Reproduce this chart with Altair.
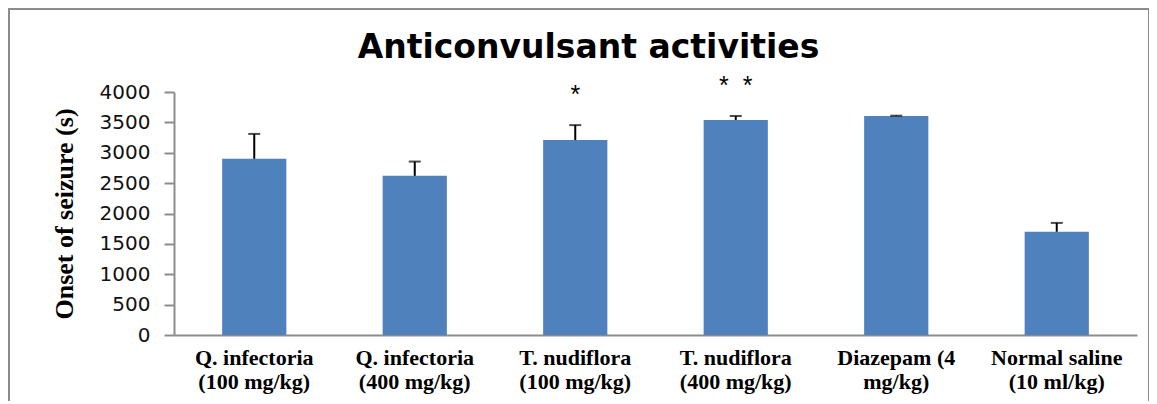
import altair as alt
import pandas as pd

categories = [
    "Q. infectoria|(100 mg/kg)",
    "Q. infectoria|(400 mg/kg)",
    "T. nudiflora|(100 mg/kg)",
    "T. nudiflora|(400 mg/kg)",
    "Diazepam (4|mg/kg)",
    "Normal saline|(10 ml/kg)",
]
means = [2900, 2620, 3210, 3540, 3605, 1700]
errors = [410, 235, 245, 65, 5, 145]
stars = ["", "", "*", "*\u00a0\u00a0*", "", ""]
y_ticks = [0, 500, 1000, 1500, 2000, 2500, 3000, 3500, 4000]

df = pd.DataFrame({"cat": categories, "mean": means, "err": errors, "star": stars})
df["top"] = df["mean"] + df["err"]

yscale = alt.Scale(domain=[0, 4000])
xscale = alt.Scale(paddingInner=0.6, paddingOuter=0.3)
xaxis = alt.Axis(title=None, labelAngle=0, labelExpr="split(datum.value, '|')",
                 labelFont="Liberation Serif", labelFontWeight="bold", labelFontSize=22,
                 labelColor="#000", labelLineHeight=24, labelPadding=12,
                 ticks=False, domainColor="#8c8c8c", domainWidth=2)
yaxis = alt.Axis(title="Onset of seizure (s)", values=y_ticks, format="d",
                 labelOverlap=False,
                 grid=False, titleFont="Liberation Serif", titleFontWeight="bold",
                 titleFontSize=26, titleColor="#000", titlePadding=22,
                 labelFont="DejaVu Sans", labelFontSize=20, labelColor="#111",
                 labelPadding=14, tickSize=10, tickColor="#8c8c8c", tickWidth=2,
                 domainColor="#8c8c8c", domainWidth=2)

x = alt.X("cat:N", sort=categories, scale=xscale, axis=xaxis)

def yenc(field):
    return alt.Y(field, scale=yscale, axis=yaxis)

base = alt.Chart(df)
bars = base.mark_bar(color="#4F81BD").encode(x=x, y=yenc("mean:Q"))
rule = base.mark_rule(color="#000", strokeWidth=2).encode(x=x, y=yenc("mean:Q"), y2="top:Q")
cap = base.mark_tick(color="#000", thickness=2, size=12, orient="horizontal").encode(
    x=x, y=yenc("top:Q"))
txt = base.mark_text(font="Liberation Sans", fontSize=25, dy=-30, dx=0, baseline="middle",
                     color="#000").encode(x=x, y=yenc("top:Q"), text="star:N")
frame = alt.Chart(pd.DataFrame({"a": [0]})).mark_rect(
    fill=None, stroke="#8c8c8c", strokeWidth=2, clip=False).encode(
    x=alt.value(-165), x2=alt.value(975), y=alt.value(-83), y2=alt.value(340))

chart = alt.layer(frame, bars, rule, cap, txt).properties(
    width=963, height=243,
    title=alt.TitleParams("Anticonvulsant activities", font="DejaVu Sans", fontSize=33,
                          fontWeight="bold", color="#000", anchor="middle", dx=-67, offset=-57),
    autosize=alt.AutoSizeParams(type="none"),
    padding={"left": 166, "top": 84, "right": 12, "bottom": 66},
).configure_view(stroke=None)

chart.save("out.html", embed_options={"renderer": "svg", "actions": False})
